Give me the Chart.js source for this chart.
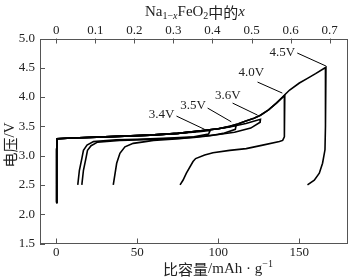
<!DOCTYPE html>
<html>
<head>
<meta charset="utf-8">
<script src="https://cdn.jsdelivr.net/npm/chart.js@4.4.0/dist/chart.umd.min.js"></script>
<style>
  html, body { margin: 0; padding: 0; background: #fff; }
</style>
</head>
<body>
<canvas id="chart" width="352" height="277"></canvas>
<script>
// Na1-xFeO2 charge/discharge curves at different cut-off voltages

// capacity (mAh/g) corresponding to x = 1 on the top axis
const CAP_PER_X = 241;

const X_TICKS = [0, 50, 100, 150];
const TOP_TICKS = [0, 0.1, 0.2, 0.3, 0.4, 0.5, 0.6, 0.7];
const Y_TICKS = [1.5, 2.0, 2.5, 3.0, 3.5, 4.0, 4.5, 5.0];

// cycle cut at 3.4 V
const cap34 = [0, 0.3, 0.6, 10, 30, 58, 75, 88, 95, 94, 85, 70, 50, 37, 23, 19, 16.8, 15.8, 14.3, 13.3];
const volt34 = [2.2, 3.1, 3.29, 3.3, 3.32, 3.35, 3.38, 3.41, 3.43, 3.37, 3.32, 3.3, 3.28, 3.27, 3.24, 3.18, 3.09, 2.95, 2.75, 2.5];

// cycle cut at 3.5 V
const cap35 = [0, 0.3, 0.6, 10, 30, 58, 75, 88, 100, 106, 111, 110.5, 103, 95, 85, 70, 50, 39, 25.5, 21.5, 19.3, 18.3, 16.8, 15.8];
const volt35 = [2.2, 3.1, 3.29, 3.3, 3.32, 3.35, 3.38, 3.42, 3.46, 3.49, 3.52, 3.45, 3.38, 3.34, 3.31, 3.29, 3.27, 3.26, 3.23, 3.17, 3.09, 2.95, 2.75, 2.5];

// cycle cut at 3.6 V
const cap36 = [0, 0.3, 0.6, 10, 30, 58, 75, 88, 100, 107, 117, 126, 125.8, 120, 110, 100, 90, 76, 60, 55, 47.5, 42.4, 39.3, 37.3, 35.2];
const volt36 = [2.2, 3.1, 3.29, 3.3, 3.32, 3.35, 3.38, 3.42, 3.46, 3.49, 3.55, 3.62, 3.57, 3.47, 3.4, 3.36, 3.33, 3.29, 3.26, 3.24, 3.21, 3.15, 3.04, 2.87, 2.5];

// cycle cut at 4.0 V
const cap40 = [0, 0.3, 0.6, 10, 30, 58, 75, 88, 100, 107, 112, 117, 122, 126, 131, 136, 139.7, 141,
  140.8, 140.7, 139.7, 137.7, 127.4, 117.2, 107, 96.7, 91.6, 86, 84.4, 80.3, 78.2, 76.4];
const volt40 = [2.2, 3.1, 3.29, 3.3, 3.32, 3.35, 3.38, 3.42, 3.46, 3.5, 3.54, 3.59, 3.64, 3.69, 3.78, 3.9, 4.0, 4.03,
  3.6, 3.32, 3.26, 3.24, 3.18, 3.12, 3.09, 3.05, 3.01, 2.95, 2.9, 2.7, 2.58, 2.5];

// cycle cut at 4.5 V
const cap45 = [0, 0.3, 0.6, 10, 30, 58, 75, 88, 100, 107, 112, 117, 122, 126, 131, 136, 139.7, 141, 144, 150, 155, 160, 166.4,
  166.2, 166, 165.8, 164.3, 162.3, 159.2, 155];
const volt45 = [2.2, 3.1, 3.29, 3.3, 3.32, 3.35, 3.38, 3.42, 3.46, 3.5, 3.54, 3.59, 3.64, 3.69, 3.78, 3.9, 4.0, 4.04, 4.12, 4.24, 4.32, 4.4, 4.51,
  4.0, 3.5, 3.1, 2.87, 2.7, 2.58, 2.5];

// cut-off labels with leader lines (data coordinates)
const LABEL_TEXT = ['3.4V', '3.5V', '3.6V', '4.0V', '4.5V'];
const LABEL_CAP = [65, 84.4, 105.9, 120.3, 139.5];
const LABEL_V = [3.70, 3.86, 4.02, 4.42, 4.76];
const LEAD_FROM_CAP = [74.2, 93.4, 108.8, 124.2, 148.7];
const LEAD_FROM_V = [3.675, 3.812, 3.897, 4.256, 4.752];
const LEAD_TO_CAP = [91.6, 108, 124.2, 139.5, 166.4];
const LEAD_TO_V = [3.448, 3.578, 3.692, 4.068, 4.53];

const SERIF = "'Liberation Serif', 'DejaVu Serif', serif";
const CJK = "'Noto Sans CJK SC', sans-serif";
const TEXT_COLOR = '#222';
const AXIS_COLOR = '#555';

function toPoints(caps, volts) {
    return caps.map((c, i) => ({ x: c, y: volts[i] }));
}

function curve(caps, volts) {
    return {
        data: toPoints(caps, volts),
        showLine: true,
        borderColor: '#000',
        borderWidth: 1.6,
        pointRadius: 0,
        tension: 0,
        xAxisID: 'x',
        yAxisID: 'y'
    };
}

// draw a row of text pieces with different fonts / offsets, centred on x
function drawRuns(ctx, runs, x, y) {
    let total = 0;
    runs.forEach(r => { ctx.font = r.font; r.w = ctx.measureText(r.text).width; total += r.w; });
    let cx = x - total / 2;
    ctx.textAlign = 'left';
    ctx.textBaseline = 'middle';
    runs.forEach(r => {
        ctx.font = r.font;
        ctx.fillText(r.text, cx, y + (r.dy || 0));
        cx += r.w;
    });
}

const framePlugin = {
    id: 'frame',
    afterDraw(chart) {
        const { ctx, chartArea: a, scales } = chart;
        ctx.save();
        ctx.strokeStyle = AXIS_COLOR;
        ctx.lineWidth = 1;
        ctx.strokeRect(Math.round(a.left) + 0.5, Math.round(a.top) + 0.5,
            Math.round(a.right - a.left) - 1, Math.round(a.bottom - a.top) - 1);

        // inward tick marks
        ctx.beginPath();
        scales.x.ticks.forEach((t, i) => {
            const px = Math.round(scales.x.getPixelForTick(i)) + 0.5;
            ctx.moveTo(px, a.bottom);
            ctx.lineTo(px, a.bottom - 5);
        });
        scales.x2.ticks.forEach((t, i) => {
            const px = Math.round(scales.x2.getPixelForTick(i)) + 0.5;
            ctx.moveTo(px, a.top);
            ctx.lineTo(px, a.top + 5);
        });
        scales.y.ticks.forEach((t, i) => {
            const py = Math.round(scales.y.getPixelForTick(i)) + 0.5;
            ctx.moveTo(a.left, py);
            ctx.lineTo(a.left + 5, py);
        });
        ctx.stroke();

        // cut-off voltage labels
        const sx = scales.x, sy = scales.y;
        ctx.strokeStyle = '#000';
        ctx.beginPath();
        LABEL_TEXT.forEach((t, i) => {
            ctx.moveTo(sx.getPixelForValue(LEAD_FROM_CAP[i]), sy.getPixelForValue(LEAD_FROM_V[i]));
            ctx.lineTo(sx.getPixelForValue(LEAD_TO_CAP[i]), sy.getPixelForValue(LEAD_TO_V[i]));
        });
        ctx.stroke();
        ctx.fillStyle = TEXT_COLOR;
        ctx.font = '13px ' + SERIF;
        ctx.textAlign = 'center';
        ctx.textBaseline = 'middle';
        LABEL_TEXT.forEach((t, i) => {
            ctx.fillText(t, sx.getPixelForValue(LABEL_CAP[i]), sy.getPixelForValue(LABEL_V[i]));
        });

        // axis titles
        const big = '15px ' + SERIF;
        const small = '10px ' + SERIF;
        const cjk = '15px ' + CJK;
        drawRuns(ctx, [
            { text: 'Na', font: big },
            { text: '1\u2212', font: small, dy: 4 },
            { text: 'x', font: 'italic ' + small, dy: 4 },
            { text: 'FeO', font: big },
            { text: '2', font: small, dy: 4 },
            { text: '中的', font: cjk },
            { text: 'x', font: 'italic ' + big }
        ], 195, 12);

        drawRuns(ctx, [
            { text: '比容量', font: cjk },
            { text: '/mAh \u00b7 g', font: big },
            { text: '\u22121', font: small, dy: -5 }
        ], 218, 269);

        ctx.translate(10, 145);
        ctx.rotate(-Math.PI / 2);
        drawRuns(ctx, [
            { text: '电压', font: cjk },
            { text: '/V', font: big }
        ], 0, 0);
        ctx.restore();
    }
};

const tickFont = { family: SERIF, size: 13 };

new Chart(document.getElementById('chart'), {
    type: 'scatter',
    data: {
        datasets: [
            curve(cap34, volt34),
            curve(cap35, volt35),
            curve(cap36, volt36),
            curve(cap40, volt40),
            curve(cap45, volt45)
        ]
    },
    options: {
        responsive: false,
        animation: false,
        layout: { padding: { right: 4, left: 0, top: 0, bottom: 0 } },
        plugins: {
            legend: { display: false },
            tooltip: { enabled: false }
        },
        scales: {
            x: {
                type: 'linear',
                position: 'bottom',
                min: -10,
                max: 180,
                afterBuildTicks: s => { s.ticks = X_TICKS.map(v => ({ value: v })); },
                afterFit: s => { s.height = 33.5; },
                grid: { display: false, drawTicks: false },
                border: { display: false },
                ticks: { font: tickFont, color: TEXT_COLOR, padding: 1, maxRotation: 0, autoSkip: false,
                    callback: v => String(v) }
            },
            x2: {
                type: 'linear',
                position: 'top',
                min: -10 / CAP_PER_X,
                max: 180 / CAP_PER_X,
                afterBuildTicks: s => { s.ticks = TOP_TICKS.map(v => ({ value: v })); },
                afterFit: s => { s.height = 38.5; },
                grid: { display: false, drawTicks: false },
                border: { display: false },
                ticks: { font: tickFont, color: TEXT_COLOR, padding: 0, maxRotation: 0, autoSkip: false,
                    callback: v => (v === 0 ? '0' : v.toFixed(1)) }
            },
            y: {
                type: 'linear',
                position: 'left',
                min: 1.5,
                max: 5.0,
                afterBuildTicks: s => { s.ticks = Y_TICKS.map(v => ({ value: v })); },
                afterFit: s => { s.width = 40; },
                grid: { display: false, drawTicks: false },
                border: { display: false },
                ticks: { font: tickFont, color: TEXT_COLOR, padding: 5, autoSkip: false,
                    callback: v => v.toFixed(1) }
            }
        }
    },
    plugins: [framePlugin]
});
</script>
</body>
</html>
